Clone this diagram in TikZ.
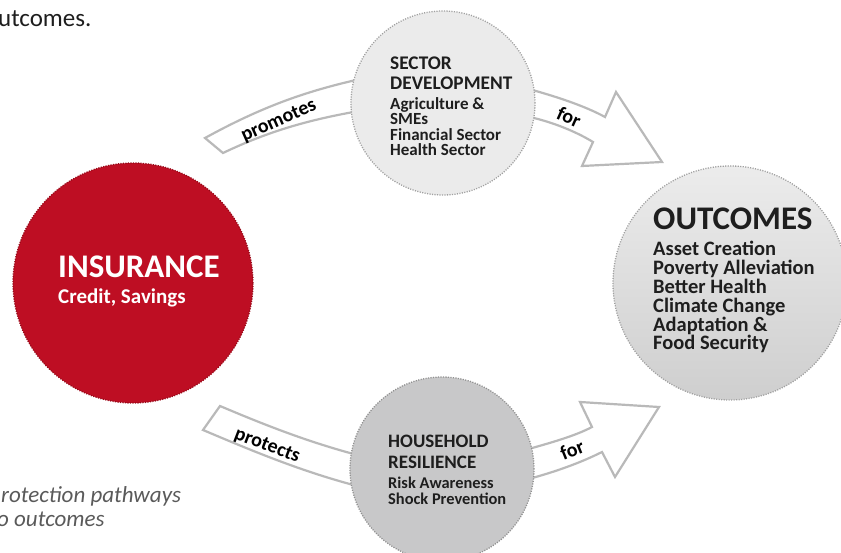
\documentclass[tikz,border=0pt]{standalone}
\usepackage{fontspec}
\setmainfont{Carlito}
\definecolor{insred}{RGB}{190,14,35}
\definecolor{insreddark}{RGB}{150,10,25}
\definecolor{secgray}{RGB}{235,235,235}
\definecolor{hhgray}{RGB}{200,200,201}
\definecolor{dotgray}{RGB}{160,160,160}
\definecolor{arrowgray}{RGB}{185,185,185}
\definecolor{txtdark}{RGB}{30,30,30}
\definecolor{captgray}{RGB}{90,90,90}
\begin{document}
\begin{tikzpicture}[x=1pt,y=-1pt,
  blockarrow/.style={draw=arrowgray, line width=2.2pt, fill=white, line join=miter},
  bubble/.style={circle, inner sep=0pt, line width=1.3pt, dash pattern=on 1.1pt off 1.4pt},
  lab/.style={inner sep=0pt, text=black, font=\bfseries\fontsize{20}{22}\selectfont},
  bigtitle/.style={anchor=base west, inner sep=0pt, align=left, font=\bfseries\fontsize{33}{34}\selectfont},
  blocktxt/.style={anchor=base west, inner sep=0pt, align=left}]
\useasboundingbox (0,0) rectangle (841,553);

% block arrows
\draw[blockarrow] (205,138) .. controls (265,105) and (310,90) .. (365,78)
  -- (365,110) .. controls (305,120) and (265,133) .. (223,153) -- cycle;
\draw[blockarrow] (525,88) .. controls (555,96) and (585,106) .. (605,117)
  -- (616,92) -- (662,162) -- (582,166) -- (593,142)
  .. controls (575,131) and (550,121) .. (525,116) -- cycle;
\draw[blockarrow] (220,406) .. controls (265,425) and (310,443) .. (365,457)
  -- (365,488) .. controls (305,473) and (255,452) .. (203,430) -- cycle;
\draw[blockarrow] (525,450) .. controls (550,443) and (575,436) .. (592,427)
  -- (580,402) -- (659,407) -- (615,477) -- (602,452)
  .. controls (580,463) and (555,472) .. (525,480) -- cycle;

% circles
\node[bubble, fill=insred, draw=insreddark, minimum size=240pt] (ins) at (133,283) {};
\node[bubble, fill=secgray, draw=dotgray, minimum size=184pt] (sec) at (443,103) {};
\node[bubble, fill=hhgray, draw=dotgray!90!black, minimum size=184pt] (hh) at (442,469) {};
\node[bubble, top color=gray!15, bottom color=gray!38, draw=dotgray, minimum size=234pt] (out) at (730,283) {};

% circle texts (base anchor = baseline of the last line)
\node[bigtitle, text=white] (institle) at (58,278) {INSURANCE};
\node[blocktxt, text=white, font=\bfseries\fontsize{21}{22}\selectfont] (inssub) at (58,304) {Credit, Savings};

\node[blocktxt, text=txtdark, font=\bfseries\fontsize{19.3}{20}\selectfont] (sectitle) at (390,90) {SECTOR\\DEVELOPMENT};
\node[blocktxt, text=txtdark, font=\bfseries\fontsize{17}{15.5}\selectfont] (secsub) at (390,156) {Agriculture \&\\SMEs\\Financial Sector\\Health Sector};

\node[blocktxt, text=txtdark, font=\bfseries\fontsize{19}{21}\selectfont] (hhtitle) at (388,468) {HOUSEHOLD\\RESILIENCE};
\node[blocktxt, text=txtdark, font=\bfseries\fontsize{16.4}{16}\selectfont] (hhsub) at (388,504) {Risk Awareness\\Shock Prevention};

\node[bigtitle, text=txtdark] (outtitle) at (653,230) {OUTCOMES};
\node[blocktxt, text=txtdark, font=\bfseries\fontsize{20.5}{18.8}\selectfont] (outsub) at (653,350) {Asset Creation\\Poverty Alleviation\\Better Health\\Climate Change\\Adaptation \&\\Food Security};

% arrow labels
\node[lab, rotate=24] (promotes) at (279,121) {promotes};
\node[lab, rotate=-21] (protects) at (267,446) {protects};
\node[lab, rotate=-24] (for1) at (569,117) {for};
\node[lab, rotate=22] (for2) at (572,450) {for};

% surrounding text
\node[anchor=base west, inner sep=0pt, text=txtdark, font=\fontsize{25}{27}\selectfont] (toptxt) at (-2,27) {utcomes.};
\node[anchor=base west, inner sep=0pt, text=captgray, font=\itshape\fontsize{23}{25}\selectfont] (cap1) at (1,502) {rotection pathways};
\node[anchor=base west, inner sep=0pt, text=captgray, font=\itshape\fontsize{23}{25}\selectfont] (cap2) at (-3,526) {o outcomes};
\end{tikzpicture}
\end{document}
